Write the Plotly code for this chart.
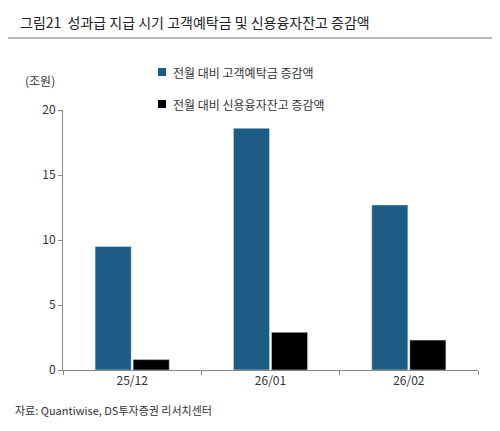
import plotly.graph_objects as go

categories = ["25/12", "26/01", "26/02"]
deposits = [9.5, 18.6, 12.7]
credit = [0.8, 2.9, 2.3]
yticks = [0, 5, 10, 15, 20]

F = "Noto Sans CJK KR"
fig = go.Figure()
fig.add_bar(x=categories, y=deposits, name="전월 대비 고객예탁금 증감액", marker_color="#1d5d85")
fig.add_bar(x=categories, y=credit, name="전월 대비 신용융자잔고 증감액", marker_color="#000000")
fig.update_layout(
    width=500, height=431, barmode="group", bargap=0.45, bargroupgap=0.05,
    plot_bgcolor="white", paper_bgcolor="white",
    font=dict(family=F, size=12, color="#333"),
    margin=dict(l=55, r=30, t=102, b=69),
    showlegend=False,
    xaxis=dict(showline=True, linecolor="#888", ticks="outside", ticklen=4, tickcolor="#888",
               tickson="boundaries"),
    yaxis=dict(range=[0, 20], tickvals=yticks, showline=True, linecolor="#888",
               ticks="outside", ticklen=4, tickcolor="#888", showgrid=False, zeroline=False),
)
fig.add_shape(type="line", xref="paper", yref="paper", x0=-55/415, x1=1+25/415,
              y0=1+(110-38)/260, y1=1+(110-38)/260, line=dict(color="#777", width=1))
fig.add_annotation(text="그림21  성과급 지급 시기 고객예탁금 및 신용융자잔고 증감액",
                   xref="paper", yref="paper", x=-45/415, y=1+(110-22)/260,
                   xanchor="left", yanchor="middle", showarrow=False,
                   font=dict(size=14, color="#222"))
fig.add_annotation(text="(조원)", xref="paper", yref="paper", x=-40/415, y=1+(110-80)/260,
                   xanchor="left", yanchor="middle", showarrow=False, font=dict(size=12))
for i, (name, col) in enumerate([(fig.data[0].name, "#1d5d85"), (fig.data[1].name, "#000")]):
    yy = 1 + (110 - 72 - 32*i)/260
    fig.add_shape(type="rect", xref="paper", yref="paper", x0=95/415, x1=103/415,
                  y0=yy-4/260, y1=yy+4/260, fillcolor=col, line_width=0)
    fig.add_annotation(text=name, xref="paper", yref="paper", x=108/415, y=yy,
                       xanchor="left", yanchor="middle", showarrow=False, font=dict(size=12))
fig.add_annotation(text="자료: Quantiwise, DS투자증권 리서치센터", xref="paper", yref="paper",
                   x=-50/415, y=-(410-370)/260, xanchor="left", yanchor="middle",
                   showarrow=False, font=dict(size=11))
fig.write_html("out.html")
